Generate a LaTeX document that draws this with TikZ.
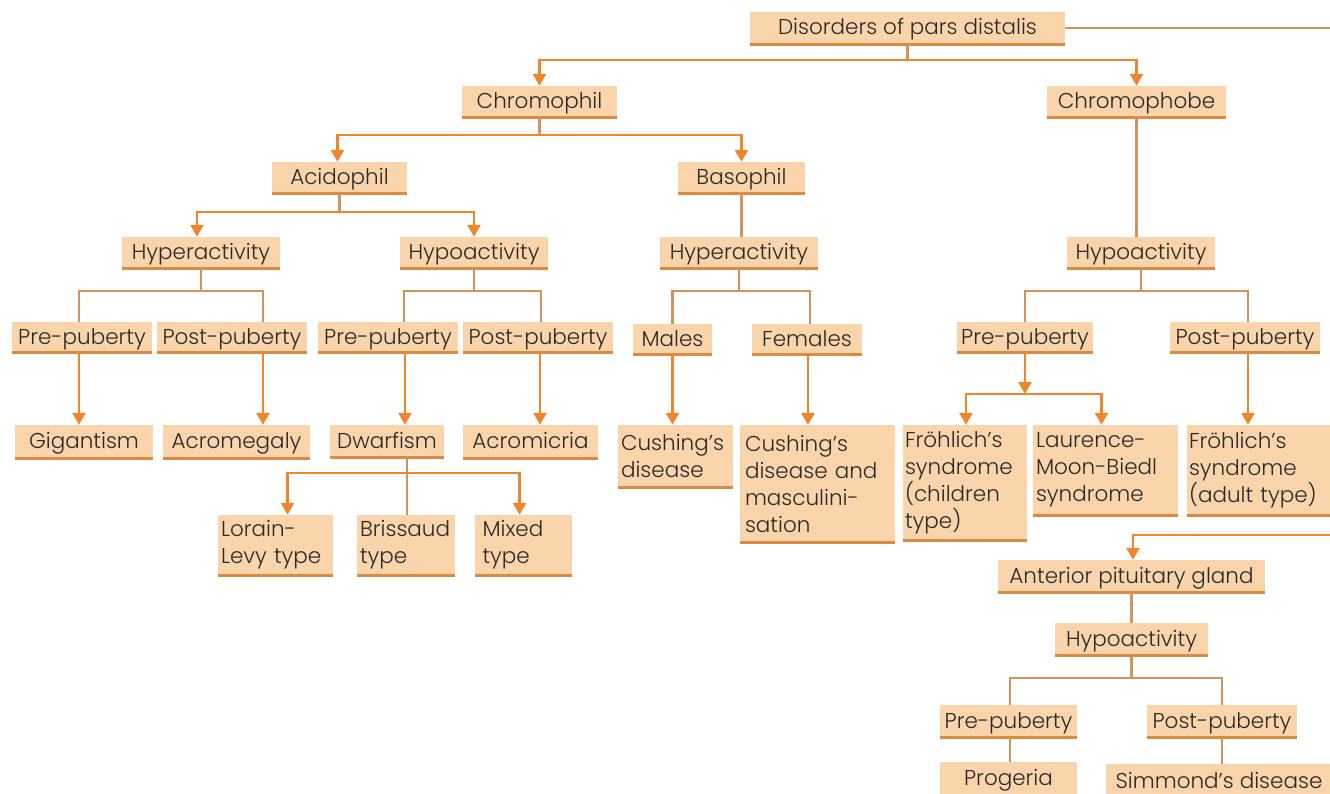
\documentclass[tikz,border=0pt]{standalone}
\usepackage{fontspec}
\setmainfont{Poppins Light}
\usetikzlibrary{arrows.meta}
\definecolor{peach}{HTML}{FAD5AC}
\definecolor{bline}{HTML}{DC8A42}
\definecolor{orng}{HTML}{F0862C}
\definecolor{tan}{HTML}{D3935A}
\definecolor{txt}{HTML}{2A2A2A}
\tikzset{
  box/.style={fill=peach, inner sep=0pt, text=txt, font=\fontsize{21.5}{27}\selectfont, minimum height=31, text height=19, text depth=5},
  mbox/.style={box, align=left, anchor=center, text height=, text depth=},
  ln/.style={draw=tan, line width=2.5},
  arr/.style={draw=orng, line width=2.7, -{Triangle[width=13,length=12]}},
  bl/.style={draw=bline, line width=3}
}
\begin{document}
\begin{tikzpicture}[x=1pt,y=-1pt]
\useasboundingbox (0,0) rectangle (1330,794);
% nodes
\node[box, minimum width=315, minimum height=32] (dis) at (907.5,28) {Disorders of pars distalis};
\node[box, minimum width=155] (chil) at (539.5,101.5) {Chromophil};
\node[box, minimum width=179] (chob) at (1136.5,101.5) {Chromophobe};
\node[box, minimum width=135] (acid) at (339.5,177.5) {Acidophil};
\node[box, minimum width=127] (baso) at (741.5,177.5) {Basophil};
\node[box, minimum width=158] (hyper1) at (201,252.5) {Hyperactivity};
\node[box, minimum width=148] (hypo1) at (474,252.5) {Hypoactivity};
\node[box, minimum width=158] (hyper2) at (739,252.5) {Hyperactivity};
\node[box, minimum width=148] (hypo2) at (1141,252.5) {Hypoactivity};
\node[box, minimum width=140, minimum height=30] (pre1) at (82,337) {Pre-puberty};
\node[box, minimum width=150, minimum height=30] (post1) at (232,337) {Post-puberty};
\node[box, minimum width=140, minimum height=30] (pre2) at (388,337) {Pre-puberty};
\node[box, minimum width=150, minimum height=30] (post2) at (538,337) {Post-puberty};
\node[box, minimum width=79, minimum height=30] (males) at (672.5,339) {Males};
\node[box, minimum width=110, minimum height=30] (females) at (807,339) {Females};
\node[box, minimum width=136, minimum height=30] (pre3) at (1025,337) {Pre-puberty};
\node[box, minimum width=150, minimum height=30] (post3) at (1245,337) {Post-puberty};
\node[box, minimum width=138, minimum height=33] (gig) at (84,441.5) {Gigantism};
\node[box, minimum width=147, minimum height=33] (acro) at (236.5,441.5) {Acromegaly};
\node[box, minimum width=114, minimum height=32] (dwarf) at (387,441) {Dwarfism};
\node[box, minimum width=135, minimum height=33] (acmi) at (530.5,441.5) {Acromicria};
\node[mbox, minimum width=115, minimum height=62, text width=109] (cush1) at (675.5,456) {Cushing’s\\disease};
\node[mbox, minimum width=155, minimum height=117, text width=145] (cush2) at (817.5,483.5) {Cushing’s\\disease and\\masculini-\\sation};
\node[mbox, minimum width=124, minimum height=115, text width=120] (froh1) at (965,482.5) {Fröhlich’s\\syndrome\\(children\\type)};
\node[mbox, minimum width=145, minimum height=90, text width=139] (lmb) at (1105.5,470) {Laurence-\\Moon-Biedl\\syndrome};
\node[mbox, minimum width=143, minimum height=90, text width=139] (froh2) at (1258.5,470) {Fröhlich’s\\syndrome\\(adult type)};
\node[mbox, minimum width=115, minimum height=60, text width=109] (lorain) at (275.5,545) {Lorain-\\Levy type};
\node[mbox, minimum width=98, minimum height=60, text width=92] (briss) at (406,545) {Brissaud\\type};
\node[mbox, minimum width=97, minimum height=60, text width=82] (mixed) at (523.5,545) {Mixed\\type};
\node[box, minimum width=267, minimum height=32] (apg) at (1131.5,576) {Anterior pituitary gland};
\node[box, minimum width=153, minimum height=32] (hypo3) at (1131.5,639) {Hypoactivity};
\node[box, minimum width=137, minimum height=32] (pre4) at (1008.5,721) {Pre-puberty};
\node[box, minimum width=150, minimum height=32] (post4) at (1222,721) {Post-puberty};
\node[box, minimum width=137, minimum height=32] (prog) at (1008.5,778) {Progeria};
\node[box, minimum width=226, minimum height=34] (simm) at (1219,781) {Simmond’s disease};
% bottom rules
\foreach \n in {dis,chil,chob,acid,baso,hyper1,hypo1,hyper2,hypo2,pre1,post1,pre2,post2,males,females,pre3,post3,gig,acro,dwarf,acmi,cush1,cush2,froh1,lmb,froh2,lorain,briss,mixed,apg,hypo3,pre4,post4}
  \draw[bl] (\n.south west) -- (\n.south east);
% junction coordinates
\coordinate (j0) at (907.5,60);
\coordinate (j1) at (539.5,135);
\coordinate (j2) at (339.5,212);
\coordinate (j3) at (201,291);
\coordinate (j4) at (474,291);
\coordinate (j5) at (739,291);
\coordinate (j6) at (1141,291);
\coordinate (j7) at (1025,394);
\coordinate (j8) at (407,473);
\coordinate (j9) at (1131.5,678);
\coordinate (edgeA) at (1332,28);
\coordinate (edgeB) at (1332,535);
% connectors
\draw[ln] (dis.south) -- (j0);
\draw[ln] (dis.east) -- (edgeA);
\draw[arr] (j0) -| (chil.north);
\draw[arr] (j0) -| (chob.north);
\draw[ln] (chil.south) -- (j1);
\draw[arr] (j1) -| ([xshift=-2]acid.north);
\draw[arr] (j1) -| (baso.north);
\draw[ln] (acid.south) -- (j2);
\draw[arr] (j2) -| ([xshift=-4]hyper1.north);
\draw[arr] (j2) -| (hypo1.north);
\draw[ln] (baso.south) -- (baso.south |- hyper2.north);
\draw[ln] (chob.south) -- (chob.south |- hypo2.north);
\draw[ln] (hyper1.south) -- (j3);
\draw[ln] (j3) -| ([xshift=-3]pre1.north);
\draw[ln] (j3) -| ([xshift=31]post1.north);
\draw[ln] (hypo1.south) -- (j4);
\draw[ln] (j4) -| ([xshift=16]pre2.north);
\draw[ln] (j4) -| ([xshift=3]post2.north);
\draw[ln] (hyper2.south) -- (j5);
\draw[ln] (j5) -| (males.north);
\draw[ln] (j5) -| ([xshift=3]females.north);
\draw[ln] (hypo2.south) -- (j6);
\draw[ln] (j6) -| (pre3.north);
\draw[ln] (j6) -| ([xshift=3]post3.north);
\draw[arr] ([xshift=-3]pre1.south) -- ([xshift=-3]pre1.south |- gig.north);
\draw[arr] ([xshift=31]post1.south) -- ([xshift=31]post1.south |- acro.north);
\draw[arr] ([xshift=17]pre2.south) -- ([xshift=17]pre2.south |- dwarf.north);
\draw[arr] ([xshift=2]post2.south) -- ([xshift=2]post2.south |- acmi.north);
\draw[arr] (males.south) -- (males.south |- cush1.north);
\draw[arr] ([xshift=1]females.south) -- ([xshift=1]females.south |- cush2.north);
\draw[arr] (pre3.south) -- (j7);
\draw[arr] (j7) -| ([xshift=1]froh1.north);
\draw[arr] (j7) -| ([xshift=-4]lmb.north);
\draw[arr] ([xshift=3]post3.south) -- ([xshift=3]post3.south |- froh2.north);
\draw[ln] ([xshift=20]dwarf.south) -- (j8);
\draw[arr] (j8) -| ([xshift=12]lorain.north);
\draw[arr] (j8) -| ([xshift=-4]mixed.north);
\draw[ln] (j8) -- (j8 |- briss.north);
\draw[arr] (edgeB) -| ([xshift=1.5]apg.north);
\draw[ln] (apg.south) -- (hypo3.north);
\draw[ln] (hypo3.south) -- (j9);
\draw[ln] (j9) -| ([xshift=1.5]pre4.north);
\draw[ln] (j9) -| (post4.north);
\draw[ln] ([xshift=1.5]pre4.south) -- ([xshift=1.5]prog.north);
\draw[ln] (post4.south) -- (post4.south |- simm.north);
\end{tikzpicture}
\end{document}
